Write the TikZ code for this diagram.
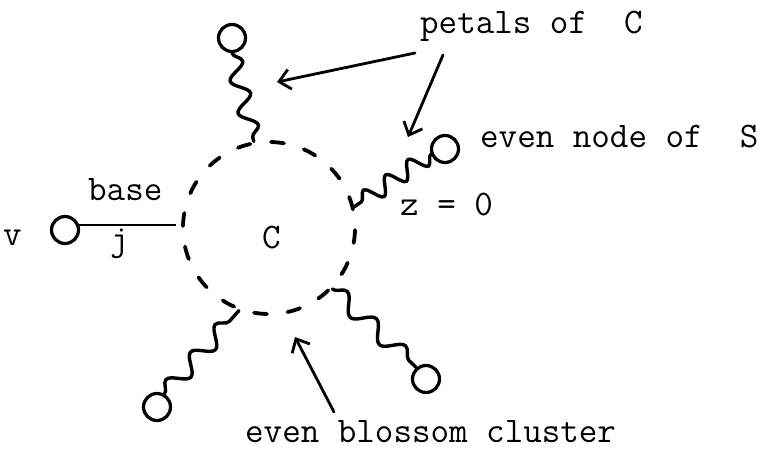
\documentclass[tikz,border=0pt]{standalone}
\usetikzlibrary{decorations.pathmorphing,arrows.meta}
\begin{document}
\begin{tikzpicture}[x=1pt,y=-1pt,
  vtx/.style={circle, draw, line width=3.2pt, minimum size=27pt, inner sep=0pt},
  petal/.style={line width=3.4pt, line cap=round, decorate, decoration={snake, amplitude=#1}},
  petal/.default=8.5pt,
  lbl/.style={font=\fontsize{36}{40}\selectfont\ttfamily, inner sep=0pt, anchor=base west},
  pointer/.style={line width=2.8pt, line cap=round, -{Straight Barb[length=11pt,width=20pt]}},
  blossom/.style={circle, draw, line width=3.8pt, line cap=round, minimum size=172pt, inner sep=0pt,
                  dash pattern=on 13pt off 20.77pt, dash phase=15pt}
]
\useasboundingbox (0,0) rectangle (773,450);

% blossom cluster
\node[blossom] (C) at (269,228) {};
\node[lbl] (Clbl) at (262,248) {C};

% outer nodes
\node[vtx] (top) at (232,38) {};
\node[vtx] (v) at (65,230) {};
\node[vtx] (even) at (445,149) {};
\node[vtx] (bl) at (157,407) {};
\node[vtx] (br) at (426,379) {};

% base edge
\draw[line width=2.2pt] (v.18) -- (v.18 -| C.west) [shorten >=5pt];

% petals (wavy)
\draw[petal, decoration={segment length=33pt}] (top.south) -- (C.100);
\draw[petal, decoration={segment length=27pt}] (even.200) -- (C.14);
\draw[petal, decoration={segment length=37pt}] (bl.60) -- (C.-110);
\draw[petal, decoration={segment length=40pt}] (C.-44) -- (br.130);

% labels
\node[lbl] (petals) at (420,33) {petals of\ \ C};
\node[lbl] (evenlbl) at (480,147) {even node of\ \ S};
\node[lbl] (z) at (400,215) {z = 0};
\node[lbl] (base) at (88,200) {base};
\node[lbl] (vlbl) at (3,245) {v};
\node[lbl] (j) at (110,250) {j};
\node[lbl] (cluster) at (245,442) {even blossom cluster};

% pointers
\coordinate (p1) at (415,53);
\coordinate (p1e) at (277,82);
\coordinate (p2) at (443,55);
\coordinate (p2e) at (408,137);
\coordinate (p3) at (334,412);
\coordinate (p3e) at (295,337);
\draw[pointer] (p1) -- (p1e);
\draw[pointer] (p2) -- (p2e);
\draw[pointer] (p3) -- (p3e);
\end{tikzpicture}
\end{document}
